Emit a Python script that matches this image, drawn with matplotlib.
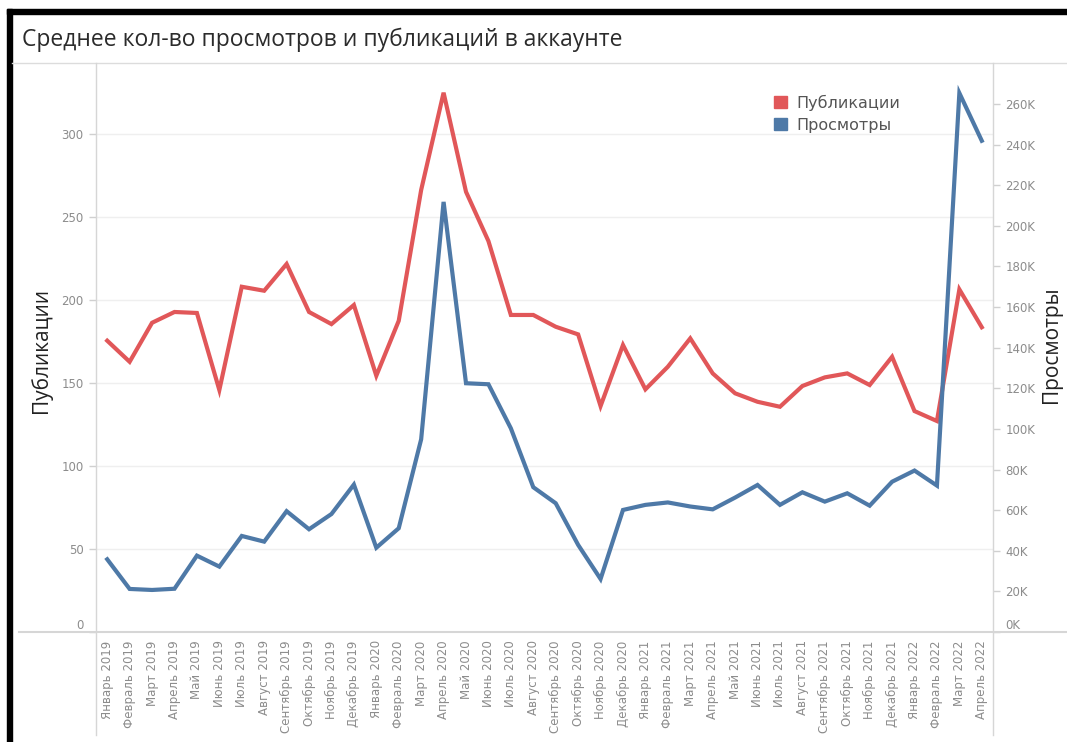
import matplotlib.pyplot as plt
from matplotlib.lines import Line2D
from matplotlib.patches import Rectangle, Patch

# Данные
months = ['Январь', 'Февраль', 'Март', 'Апрель', 'Май', 'Июнь', 'Июль',
          'Август', 'Сентябрь', 'Октябрь', 'Ноябрь', 'Декабрь']
labels = [f'{m} {y}' for y in (2019, 2020, 2021) for m in months] + \
         [f'{m} 2022' for m in months[:4]]

publications = [175.5, 162.8, 186.3, 192.8, 192.2, 145.8, 208.0, 205.6, 221.7, 192.8,
                185.5, 197.0, 154.4, 187.5, 266.3, 324.9, 265.2, 235.5, 191.0, 191.0,
                183.9, 179.3, 136.1, 172.9, 146.2, 159.8, 176.9, 155.8, 143.8, 138.7,
                135.7, 148.2, 153.4, 155.8, 148.8, 165.8, 133.1, 127.1, 206.4, 183.6]

views_k = [35.8, 21.2, 20.7, 21.3, 37.6, 32.2, 47.3, 44.5, 59.5, 50.6,
           58.1, 72.6, 41.5, 51.1, 94.9, 211.8, 122.5, 122.0, 100.3, 71.3,
           63.4, 42.9, 26.1, 60.1, 62.6, 63.8, 61.8, 60.4, 66.2, 72.4,
           62.6, 68.8, 64.2, 68.3, 62.2, 74.0, 79.5, 72.1, 265.4, 241.9]

RED = '#e15759'
BLUE = '#4e79a7'
GRAY = '#8c8c8c'
W, H = 1067, 742

fig = plt.figure(figsize=(W / 100, H / 100), dpi=100)


def fx(x):
    return x / W


def fy(y):
    return 1 - y / H


# рамка сверху и слева
fig.patches.append(Rectangle((fx(7), fy(14)), 1 - fx(7), 5 / H, transform=fig.transFigure,
                             color='black', zorder=0))
fig.patches.append(Rectangle((fx(7), 0), 5 / W, fy(9), transform=fig.transFigure,
                             color='black', zorder=0))

# разделительные линии
for x0, y0, x1, y1, c, lw in [(12, 63, W, 63, '#dcdcdc', 1.0),
                              (19, 632, W, 632, '#d6d6d6', 1.5),
                              (96, 63, 96, 735, '#d6d6d6', 1.0),
                              (993, 63, 993, 735, '#d6d6d6', 1.0)]:
    fig.add_artist(Line2D([fx(x0), fx(x1)], [fy(y0), fy(y1)], transform=fig.transFigure,
                          color=c, lw=lw, zorder=1))

fig.text(fx(22), fy(40), 'Среднее кол-во просмотров и публикаций в аккаунте',
         fontsize=16.5, family='Open Sans', color='#2b2b2b', va='center', ha='left')

ax = fig.add_axes([fx(96), fy(632), fx(993) - fx(96), (632 - 63) / H])
ax2 = ax.twinx()

x = list(range(len(labels)))
ax.plot(x, publications, color=RED, lw=3, solid_joinstyle='miter', zorder=3)
ax2.plot(x, views_k, color=BLUE, lw=3, solid_joinstyle='miter', zorder=3)

ax.set_xlim(-0.5, len(labels) - 0.5)
ax.set_ylim(0, 342.8)
ax2.set_ylim(0, 280.2)

ax.set_yticks(range(0, 301, 50))
ax.yaxis.grid(True, color='#efefef', lw=1)
ax.set_axisbelow(True)
ax2.set_yticks(range(0, 261, 20))
ax2.set_yticklabels([f'{v}K' for v in range(0, 261, 20)])

ax.set_xticks(x)
ax.set_xticklabels(labels, rotation=90, va='top', ha='center')

for a in (ax, ax2):
    for s in a.spines.values():
        s.set_visible(False)
    a.patch.set_alpha(0)
    a.tick_params(axis='y', colors='#d0d0d0', labelcolor=GRAY, labelsize=8.5,
                  length=5, width=1, pad=4)
    # нижняя метка приподнята, как в Tableau
    a.get_yticklabels()[0].set_va('bottom')
ax.tick_params(axis='x', length=0, labelcolor=GRAY, labelsize=8.5, pad=6)

# подписи осей
fig.text(fx(41), fy(350), 'Публикации', family='Open Sans', fontsize=15,
         color='#222222', rotation=90, ha='center', va='center')
fig.text(fx(1051), fy(345), 'Просмотры', family='Open Sans', fontsize=15,
         color='#222222', rotation=90, ha='center', va='center')

handles = [Patch(color=RED, label='Публикации'), Patch(color=BLUE, label='Просмотры')]
fig.legend(handles=handles, loc='upper left', bbox_to_anchor=(fx(768), fy(88)),
           frameon=False, fontsize=11.5, labelcolor='#555555', handlelength=0.8,
           handleheight=0.8, handletextpad=0.6, labelspacing=0.45, borderaxespad=0)

fig.savefig('out.png', dpi=100)
